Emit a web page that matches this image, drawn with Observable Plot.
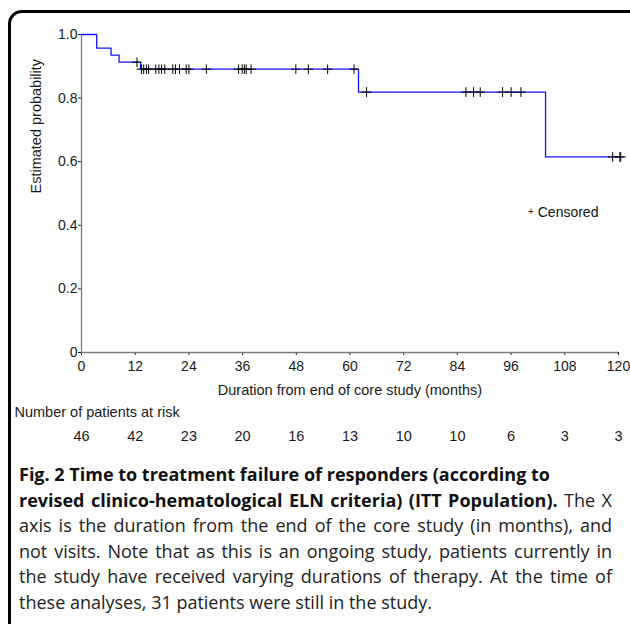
<!DOCTYPE html>
<html>
<head>
<meta charset="utf-8">
<script src="https://cdn.jsdelivr.net/npm/d3@7"></script>
<script src="https://cdn.jsdelivr.net/npm/@observablehq/plot@0.6"></script>
<style>
  html, body { margin: 0; padding: 0; background: #fff; overflow: hidden; width: 630px; height: 624px; }
  #frame { position: absolute; left: 8px; top: 10px; width: 640px; height: 640px; border: 3px solid #000; border-radius: 14px; box-sizing: border-box; }
  #chart { position: absolute; left: 0; top: 0; }
  #legend { position: absolute; left: 528px; top: 204px; font-family: "Liberation Sans", Arial, sans-serif; font-size: 14px; color: #111; white-space: nowrap; }
  #legend .p { font-size: 10px; position: relative; top: -2px; }
  #caption { position: absolute; left: 19px; top: 462px; width: 593px; font-family: "Open Sans", sans-serif; font-size: 18px; line-height: 25.5px; color: #222; }
  #caption div { white-space: nowrap; text-align: justify; text-align-last: justify; }
  #caption div.last { text-align: left; text-align-last: left; }
  #caption b { font-weight: 700; color: #111; }
</style>
</head>
<body>
<div id="frame"></div>
<div id="chart"></div>
<div id="legend"><span class="p">+</span> Censored</div>
<div id="caption">
  <div class="last"><b>Fig. 2 Time to treatment failure of responders (according to</b></div>
  <div><b>revised clinico-hematological ELN criteria) (ITT Population).</b> The X</div>
  <div>axis is the duration from the end of the core study (in months), and</div>
  <div>not visits. Note that as this is an ongoing study, patients currently in</div>
  <div>the study have received varying durations of therapy. At the time of</div>
  <div class="last">these analyses, 31 patients were still in the study.</div>
</div>
<script>
// Kaplan-Meier step curve (months, estimated probability)
const stepMonths   = [0, 3.4, 6.6, 8.4, 13.2, 61.9, 103.7, 120.5];
const stepSurvival = [1.0, 0.957, 0.935, 0.913, 0.891, 0.819, 0.615, 0.615];

// Censored observations (months)
const censorMonths = [12.4, 13.4, 13.9, 14.5, 15.0, 16.6, 17.3, 17.9, 18.6, 20.4, 21.0, 21.9,
  23.4, 24.0, 27.9, 35.1, 35.9, 36.4, 36.8, 37.9, 47.9, 50.7, 55.0, 60.9,
  63.7, 85.9, 87.6, 89.1, 94.1, 96.0, 98.2, 118.7, 120.3, 120.5];

// Axis ticks
const xTicks = [0, 12, 24, 36, 48, 60, 72, 84, 96, 108, 120];
const yTicks = [0, 0.2, 0.4, 0.6, 0.8, 1.0];

// Number at risk
const riskMonths = [0, 12, 24, 36, 48, 60, 72, 84, 96, 108, 120];
const riskCounts = [46, 42, 23, 20, 16, 13, 10, 10, 6, 3, 3];

const xLabel = "Duration from end of core study (months)";
const yLabel = "Estimated probability";
const riskLabel = "Number of patients at risk";

const steps = stepMonths.map((m, i) => ({month: m, surv: stepSurvival[i]}));
function survAt(t) {
  let s = stepSurvival[0];
  for (let i = 0; i < stepMonths.length; i++) if (stepMonths[i] <= t) s = stepSurvival[i];
  return s;
}
const censors = censorMonths.map(m => ({month: m, surv: survAt(m)}));
const risk = riskMonths.map((m, i) => ({month: m, n: String(riskCounts[i])}));

const FS = 14.5;
const chart = Plot.plot({
  width: 630,
  height: 456,
  marginLeft: 81,
  marginRight: 12,
  marginTop: 34,
  marginBottom: 104,
  style: {fontFamily: "'Liberation Sans', Arial, sans-serif", fontSize: "14px", color: "#1a1a1a", background: "transparent", overflow: "visible"},
  x: {domain: [0, 120], ticks: xTicks, tickFormat: d => String(d), tickSize: 3, tickPadding: 6, label: null},
  y: {domain: [0, 1], ticks: yTicks, tickFormat: d => d === 0 ? "0" : d.toFixed(1), tickSize: 3, tickPadding: 1, label: null},
  marks: [
    Plot.ruleY([0], {stroke: "#7a7a7a", strokeWidth: 1.3}),
    Plot.ruleX([0], {stroke: "#7a7a7a", strokeWidth: 1.3}),
    Plot.line(steps, {x: "month", y: "surv", curve: "step-after", stroke: "#1010ff", strokeWidth: 1.3}),
    Plot.dot(censors, {x: "month", y: "surv", symbol: "plus", r: 3.2, stroke: "#000", strokeWidth: 1}),
    Plot.text([xLabel], {text: d => d, frameAnchor: "bottom", dy: 42, fontSize: FS}),
    Plot.text([yLabel], {text: d => d, frameAnchor: "left", rotate: -90, dx: -45, fontSize: FS}),
    Plot.text([riskLabel], {text: d => d, frameAnchor: "bottom-left", textAnchor: "start", dx: -67, dy: 64, fontSize: FS}),
    Plot.text(risk, {x: "month", text: "n", frameAnchor: "bottom", dy: 88, fontSize: FS})
  ]
});
document.getElementById("chart").appendChild(chart);
</script>
</body>
</html>
